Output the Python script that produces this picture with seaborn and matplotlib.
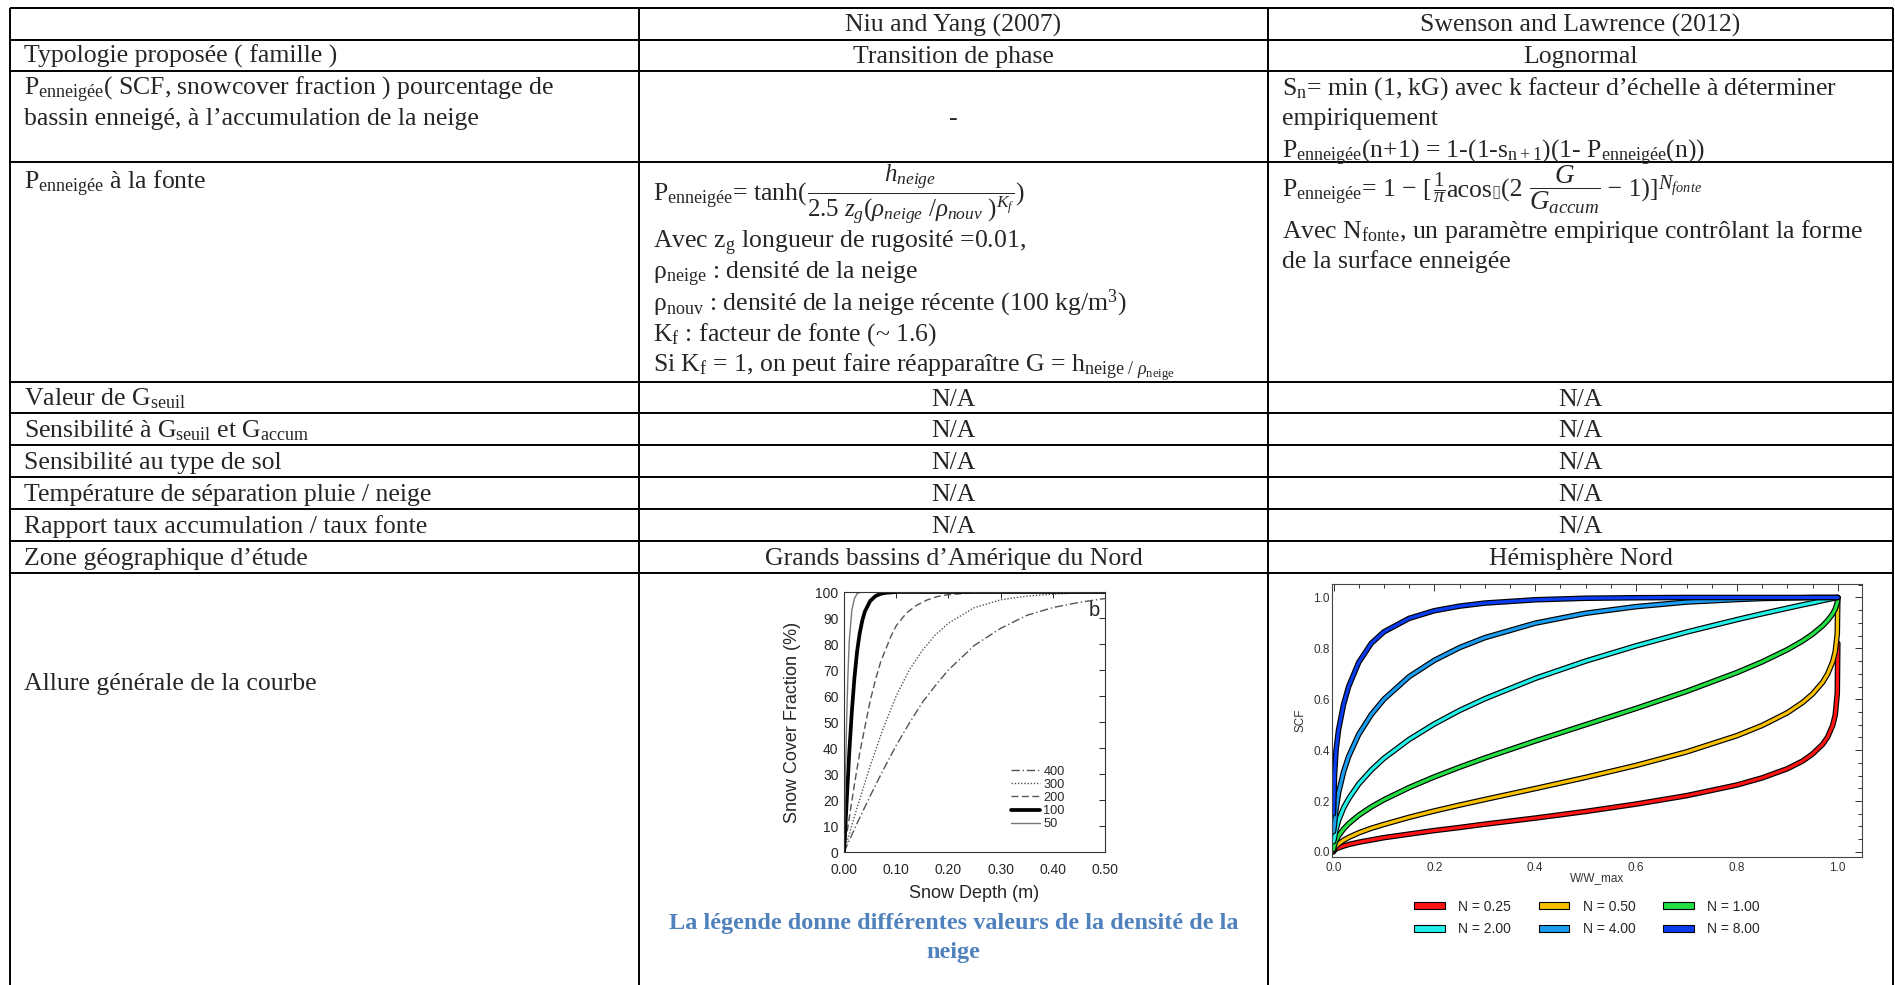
import matplotlib
matplotlib.use('Agg')
import matplotlib.pyplot as plt
import matplotlib.patheffects as pe
from matplotlib.patches import Patch
from matplotlib.ticker import MultipleLocator, FormatStrFormatter
import seaborn as sns

sns.set_style('white')
plt.rcParams['font.family'] = ['Liberation Serif', 'DejaVu Serif']
plt.rcParams['mathtext.fontset'] = 'custom'
plt.rcParams['mathtext.rm'] = 'Liberation Serif'
plt.rcParams['mathtext.it'] = 'Liberation Serif:italic'
plt.rcParams['mathtext.bf'] = 'Liberation Serif:bold'

W, H = 1895, 985
FS = 18.5
SANS = 'Liberation Sans'

# ============================================
# Données : Niu and Yang (2007), profondeur (m) -> SCF (%)
# ============================================
prof_400 = [0, 0.025, 0.05, 0.075, 0.1, 0.125, 0.15, 0.175, 0.2, 0.25, 0.3, 0.35, 0.4, 0.45, 0.5]
scf_400 = [0, 11, 21.5, 31.5, 41, 49.5, 57.5, 64, 70, 79.5, 86, 91, 94, 96, 97.5]
prof_300 = [0, 0.025, 0.05, 0.075, 0.1, 0.125, 0.15, 0.175, 0.2, 0.25, 0.3, 0.35, 0.4, 0.45, 0.5]
scf_300 = [0, 17, 33, 47.5, 60, 70, 77.5, 83.5, 88, 94, 97, 98.4, 99.2, 99.6, 99.8]
prof_200 = [0, 0.01, 0.02, 0.03, 0.04, 0.05, 0.06, 0.07, 0.08, 0.09, 0.1, 0.12, 0.14, 0.16, 0.18, 0.2, 0.25, 0.3, 0.5]
scf_200 = [0, 13, 26, 38, 48, 58, 66, 73, 78, 83, 87, 92, 95, 97, 98.3, 99, 99.7, 99.9, 100]
prof_100 = [0, 0.0025, 0.005, 0.01, 0.015, 0.02, 0.025, 0.03, 0.035, 0.04, 0.05, 0.06, 0.07, 0.08, 0.1, 0.5]
scf_100 = [0, 9, 19, 38, 54, 67, 77, 84, 89, 92.5, 96.5, 98.4, 99.3, 99.7, 100, 100]
prof_50 = [0, 0.0025, 0.005, 0.0075, 0.01, 0.015, 0.02, 0.025, 0.03, 0.04, 0.5]
scf_50 = [0, 26, 50, 68, 81, 93, 97.5, 99.3, 99.8, 100, 100]

# ============================================
# Données : Swenson and Lawrence (2012), W/W_max -> SCF
# ============================================
w_ratio = [0, 0.002, 0.005, 0.01, 0.02, 0.03, 0.05, 0.075, 0.1, 0.15, 0.2, 0.25, 0.3, 0.4,
           0.5, 0.6, 0.7, 0.8, 0.85, 0.9, 0.93, 0.95, 0.97, 0.98, 0.99, 0.995, 0.999, 1.0]
scf_n025 = [0, 0.007, 0.012, 0.016, 0.023, 0.029, 0.038, 0.047, 0.056, 0.070, 0.084, 0.096, 0.109, 0.133,
            0.159, 0.188, 0.221, 0.263, 0.291, 0.327, 0.357, 0.385, 0.423, 0.452, 0.498, 0.539, 0.623, 0.82]
scf_n050 = [0.005, 0.014, 0.023, 0.032, 0.046, 0.057, 0.075, 0.093, 0.108, 0.136, 0.161, 0.184, 0.206, 0.249,
            0.293, 0.340, 0.393, 0.457, 0.497, 0.547, 0.587, 0.621, 0.667, 0.700, 0.748, 0.788, 0.858, 1.0]
scf_n100 = [0.01, 0.029, 0.045, 0.064, 0.090, 0.111, 0.144, 0.177, 0.205, 0.253, 0.295, 0.333, 0.369, 0.436,
            0.500, 0.564, 0.631, 0.705, 0.747, 0.795, 0.829, 0.856, 0.889, 0.910, 0.936, 0.955, 0.980, 1.0]
scf_n200 = [0.04, 0.056, 0.088, 0.124, 0.173, 0.209, 0.267, 0.322, 0.368, 0.442, 0.503, 0.556, 0.602, 0.682,
            0.750, 0.810, 0.864, 0.913, 0.936, 0.958, 0.971, 0.979, 0.988, 0.992, 0.996, 0.998, 1.0, 1.0]
scf_n400 = [0.08, 0.109, 0.168, 0.232, 0.315, 0.375, 0.462, 0.540, 0.600, 0.689, 0.753, 0.803, 0.842, 0.899,
            0.938, 0.964, 0.982, 0.992, 0.996, 0.998, 0.999, 1.0, 1.0, 1.0, 1.0, 1.0, 1.0, 1.0]
scf_n800 = [0.15, 0.30, 0.40, 0.48, 0.58, 0.65, 0.745, 0.82, 0.865, 0.918, 0.948, 0.966, 0.978, 0.991,
            0.997, 0.999, 1.0, 1.0, 1.0, 1.0, 1.0, 1.0, 1.0, 1.0, 1.0, 1.0, 1.0, 1.0]
n_labels = ['N = 0.25', 'N = 0.50', 'N = 1.00', 'N = 2.00', 'N = 4.00', 'N = 8.00']
n_colors = ['#ff1414', '#f7c000', '#22e044', '#22f0e8', '#1a9cf0', '#0a3cf0']

# ============================================
# Tableau : textes
# ============================================
col_x = [10, 639, 1268, 1893]
row_y = [8, 40, 71, 162, 382, 413, 445, 477, 509, 541, 573]

header = ['Niu and Yang (2007)', 'Swenson and Lawrence (2012)']
familles = ['Transition de phase', 'Lognormal']
lignes_na = [
    r'Valeur de G$_{\mathrm{seuil}}$',
    r'Sensibilité à G$_{\mathrm{seuil}}$ et G$_{\mathrm{accum}}$',
    'Sensibilité au type de sol',
    'Température de séparation pluie / neige',
    'Rapport taux accumulation / taux fonte',
]
zones = ['Grands bassins d’Amérique du Nord', 'Hémisphère Nord']

fig = plt.figure(figsize=(W / 100, H / 100), dpi=100)
ax = fig.add_axes([0, 0, 1, 1])
ax.set_xlim(0, W)
ax.set_ylim(H, 0)
ax.axis('off')
renderer = fig.canvas.get_renderer()

for y in row_y:
    ax.plot([col_x[0], col_x[-1]], [y, y], color='black', lw=1.4, solid_capstyle='butt')
for x in col_x:
    ax.plot([x, x], [row_y[0], H], color='black', lw=1.4, solid_capstyle='butt')

xl = 24
xc = [(col_x[1] + col_x[2]) / 2, (col_x[2] + col_x[3]) / 2]
xm, xr = 653, 1282


def txt(x, y, s, ha='left', **kw):
    return ax.text(x, y, s, ha=ha, va='baseline', fontsize=kw.pop('fontsize', FS), **kw)


def chain(x, y, pieces):
    # formule en plusieurs morceaux posés les uns après les autres
    for s, fs, kw in pieces:
        t = txt(x, y, s, fontsize=fs, **kw)
        x += t.get_window_extent(renderer).width


# en-tête et famille
for i in range(2):
    txt(xc[i], 32, header[i], ha='center')
    txt(xc[i], 63, familles[i], ha='center')
txt(xl, 63, 'Typologie proposée ( famille )')

# accumulation
txt(xl, 95, r'P$_{\mathrm{enneigée}}$( SCF, snowcover fraction ) pourcentage de')
txt(xl, 125, 'bassin enneigé, à l’accumulation de la neige')
txt(xc[0], 125, '-', ha='center')
txt(xr, 95, r'S$_{\mathrm{n}}$= min (1, kG) avec k facteur d’échelle à déterminer')
txt(xr, 125, 'empiriquement')
txt(xr, 158, r'P$_{\mathrm{enneigée}}$(n+1) = 1-(1-s$_{\mathrm{n+1}}$)(1- P$_{\mathrm{enneigée}}$(n))')

# fonte
txt(xl, 189, r'P$_{\mathrm{enneigée}}$ à la fonte')
chain(xm, 201, [
    (r'P$_{\mathrm{enneigée}}$= tanh(', FS, {}),
    (r'$\dfrac{h_{neige}}{2.5\ z_g(\rho_{neige}\ /\rho_{nouv}\ )^{K_f}}$', 18, {}),
    (')', FS, {}),
])
txt(xm, 248, r'Avec z$_{\mathrm{g}}$ longueur de rugosité =0.01,')
txt(xm, 279, r'ρ$_{\mathrm{neige}}$ : densité de la neige')
txt(xm, 310, r'ρ$_{\mathrm{nouv}}$ : densité de la neige récente (100 kg/m$^{\mathrm{3}}$)')
txt(xm, 341, r'K$_{\mathrm{f}}$ : facteur de fonte (~ 1.6)')
txt(xm, 372, r'Si K$_{\mathrm{f}}$ = 1, on peut faire réapparaître G = h$_{\mathrm{neige\ /\ }\rho_{\mathrm{neige}}}$')
chain(xr, 197, [
    (r'P$_{\mathrm{enneigée}}$= 1 − [ ', FS, {}),
    (r'$\dfrac{1}{\pi}$', 15, {}),
    ('acos', FS, {}),
    ('▯', 12, {'family': 'DejaVu Sans', 'color': '#555555'}),
    ('(2 ', FS, {}),
    (r'$\dfrac{G}{G_{accum}}$', 19.5, {}),
    (' − 1)]', FS, {}),
    (r'$^{N_{fonte}}$', 21, {}),
])
txt(xr, 238, r'Avec N$_{\mathrm{fonte}}$, un paramètre empirique contrôlant la forme')
txt(xr, 268, 'de la surface enneigée')

# lignes N/A
for k, lab in enumerate(lignes_na):
    yb = (row_y[4 + k] + row_y[5 + k]) / 2 + 8
    txt(xl, yb, lab)
    txt(xc[0], yb, 'N/A', ha='center')
    txt(xc[1], yb, 'N/A', ha='center')

yb = (row_y[9] + row_y[10]) / 2 + 8
txt(xl, yb, 'Zone géographique d’étude')
txt(xc[0], yb, zones[0], ha='center')
txt(xc[1], yb, zones[1], ha='center')
txt(xl, 690, 'Allure générale de la courbe')

txt(xc[0], 929, 'La légende donne différentes valeurs de la densité de la', ha='center',
    fontsize=17.5, fontweight='bold', color='#4F81BD')
txt(xc[0], 958, 'neige', ha='center', fontsize=17.5, fontweight='bold', color='#4F81BD')

# ============================================
# Graphique gauche : Niu and Yang
# ============================================
axL = fig.add_axes([844 / W, 1 - 852 / H, 261 / W, 260 / H])
courbes = [
    ('400', prof_400, scf_400, dict(color='#555555', lw=1.0, linestyle=(0, (6, 2, 1, 2)))),
    ('300', prof_300, scf_300, dict(color='#555555', lw=1.0, linestyle=(0, (1, 1.3)))),
    ('200', prof_200, scf_200, dict(color='#555555', lw=1.0, linestyle=(0, (5, 2.5)))),
    ('100', prof_100, scf_100, dict(color='black', lw=2.7)),
    ('50', prof_50, scf_50, dict(color='#777777', lw=1.0)),
]
for lab, xs, ys, st in courbes:
    sns.lineplot(x=xs, y=ys, ax=axL, label=lab, **st)
axL.set_xlim(0, 0.5)
axL.set_ylim(0, 100)
axL.xaxis.set_major_locator(MultipleLocator(0.1))
axL.xaxis.set_major_formatter(FormatStrFormatter('%.2f'))
axL.yaxis.set_major_locator(MultipleLocator(10))
axL.tick_params(direction='in', top=True, right=True, length=4, width=0.7,
                labelsize=10, pad=4)
axL.tick_params(axis='x', pad=8)
for lbl in axL.get_xticklabels() + axL.get_yticklabels():
    lbl.set_family(SANS)
for sp in axL.spines.values():
    sp.set_linewidth(0.8)
    sp.set_color('#333333')
axL.set_xlabel('Snow Depth (m)', fontsize=13, family=SANS)
axL.set_ylabel('Snow Cover Fraction (%)', fontsize=13, family=SANS)
axL.xaxis.set_label_coords(0.5, -0.125)
axL.yaxis.set_label_coords(-0.165, 0.5)
axL.text(0.48, 93, 'b', fontsize=14.5, family=SANS, ha='center', va='center')
h, l = axL.get_legend_handles_labels()
axL.legend(h, l, loc='lower right', bbox_to_anchor=(0.87, 0.06), frameon=False,
           prop={'family': SANS, 'size': 9.2}, handlelength=2.3, handletextpad=0.25,
           labelspacing=0.08, borderpad=0)

# ============================================
# Graphique droit : Swenson and Lawrence
# ============================================
axR = fig.add_axes([1332 / W, 1 - 857 / H, 530 / W, 273 / H])
series = [scf_n025, scf_n050, scf_n100, scf_n200, scf_n400, scf_n800]
for ys, c in zip(series, n_colors):
    sns.lineplot(x=w_ratio, y=ys, ax=axR, color=c, lw=2.3, legend=False,
                 path_effects=[pe.Stroke(linewidth=4.0, foreground='black'), pe.Normal()])
axR.set_xlim(-0.003, 1.048)
axR.set_ylim(-0.02, 1.053)
axR.xaxis.set_major_locator(MultipleLocator(0.2))
axR.xaxis.set_minor_locator(MultipleLocator(0.05))
axR.yaxis.set_major_locator(MultipleLocator(0.2))
axR.yaxis.set_minor_locator(MultipleLocator(0.05))
axR.xaxis.set_major_formatter(FormatStrFormatter('%.1f'))
axR.yaxis.set_major_formatter(FormatStrFormatter('%.1f'))
axR.tick_params(which='both', direction='in', top=True, right=True, width=0.7,
                labelsize=8.5, labelcolor='#333333', color='#333333')
axR.tick_params(which='major', length=5)
axR.tick_params(which='minor', length=3)
axR.tick_params(axis='y', pad=1.5)
axR.tick_params(axis='x', pad=3.5)
for lbl in axR.get_xticklabels() + axR.get_yticklabels():
    lbl.set_family(SANS)
for sp in axR.spines.values():
    sp.set_linewidth(0.8)
    sp.set_color('#444444')
axR.set_xlabel('W/W_max', fontsize=8.5, family=SANS, color='#333333')
axR.set_ylabel('SCF', fontsize=8.5, family=SANS, color='#333333')
axR.xaxis.set_label_coords(0.5, -0.055)
axR.yaxis.set_label_coords(-0.049, 0.5)

patches = [Patch(facecolor=c, edgecolor='black', lw=0.8, label=t) for c, t in zip(n_colors, n_labels)]
order = [0, 3, 1, 4, 2, 5]
fig.legend(handles=[patches[i] for i in order], ncol=3, loc='center',
           bbox_to_anchor=(1587 / W, 1 - 918 / H), frameon=False,
           prop={'family': SANS, 'size': 10}, handlelength=2.2, handleheight=0.42,
           columnspacing=2.0, labelspacing=0.62, handletextpad=0.95)

plt.savefig('out.png', dpi=100)
plt.close()
